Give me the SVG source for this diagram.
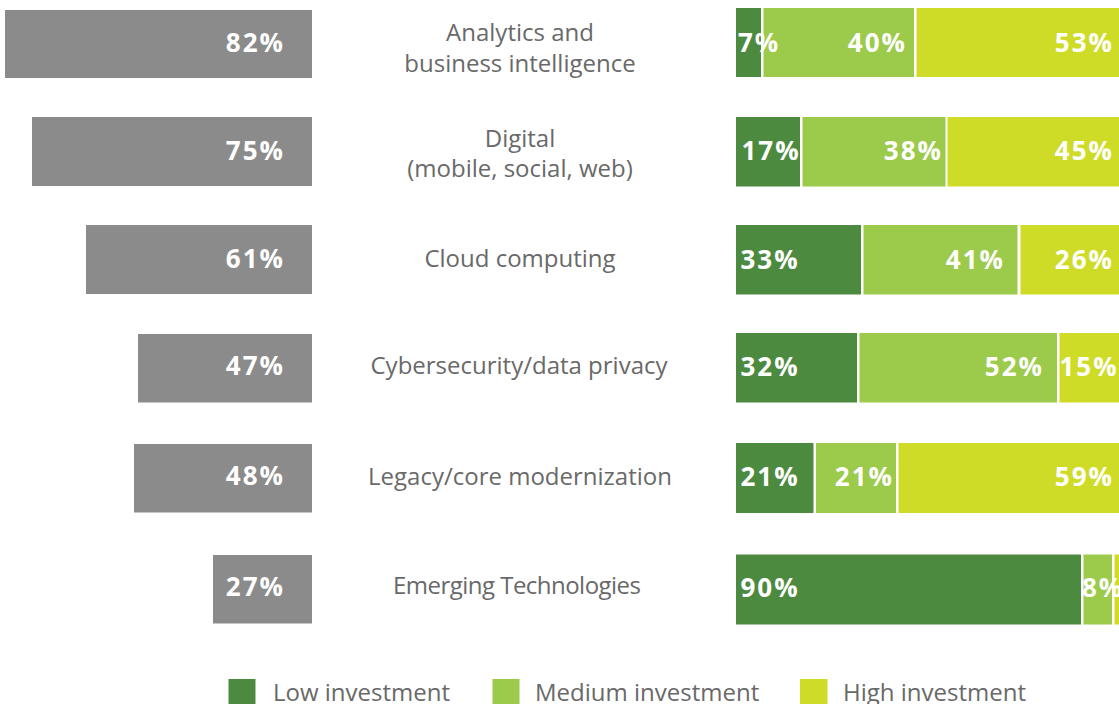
<svg xmlns="http://www.w3.org/2000/svg" width="1119" height="704" viewBox="0 0 1119 704">
<style>
.g{fill:#8b8b8b}
.lo{fill:#4c8a40}
.me{fill:#9cca4a}
.hi{fill:#cedc28}
.v{font-family:"Open Sans","Liberation Sans",sans-serif;font-weight:bold;font-size:26px;letter-spacing:2px;fill:#fff}
.e{text-anchor:end}
.lab{font-family:"Open Sans","Liberation Sans",sans-serif;font-size:24px;fill:#696969;text-anchor:middle}
.leg{font-family:"Open Sans","Liberation Sans",sans-serif;font-size:24px;fill:#696969}
</style>
<rect width="1119" height="704" fill="#fff"/>
<g id="row1">
<rect class="g" x="5" y="10" width="307" height="68"/>
<text class="v e" x="285" y="51.5">82%</text>
<text class="lab" x="520" y="41">Analytics and</text>
<text class="lab" x="520" y="72">business intelligence</text>
<rect class="lo" x="736" y="8" width="25" height="69"/>
<rect class="me" x="763.5" y="8" width="150.5" height="69"/>
<rect class="hi" x="916.5" y="8" width="202.5" height="69"/>
<text class="v" x="738" y="51.5">7%</text>
<text class="v e" x="907" y="51.5">40%</text>
<text class="v e" x="1114" y="51.5">53%</text>
</g>
<g id="row2">
<rect class="g" x="32" y="117" width="280" height="69"/>
<text class="v e" x="285" y="159.5">75%</text>
<text class="lab" x="520" y="147">Digital</text>
<text class="lab" x="520" y="177">(mobile, social, web)</text>
<rect class="lo" x="736" y="117" width="64" height="69.5"/>
<rect class="me" x="802.5" y="117" width="143" height="69.5"/>
<rect class="hi" x="947.5" y="117" width="171.5" height="69.5"/>
<text class="v" x="741.5" y="160">17%</text>
<text class="v e" x="943" y="160">38%</text>
<text class="v e" x="1114" y="160">45%</text>
</g>
<g id="row3">
<rect class="g" x="86" y="225" width="226" height="69"/>
<text class="v e" x="285" y="267.5">61%</text>
<text class="lab" x="520" y="266.5">Cloud computing</text>
<rect class="lo" x="736" y="225" width="125" height="69.5"/>
<rect class="me" x="863.5" y="225" width="154" height="69.5"/>
<rect class="hi" x="1020.5" y="225" width="98.5" height="69.5"/>
<text class="v" x="740.5" y="269">33%</text>
<text class="v e" x="1005" y="269">41%</text>
<text class="v e" x="1114" y="269">26%</text>
</g>
<g id="row4">
<rect class="g" x="138" y="334" width="174" height="68.5"/>
<text class="v e" x="285" y="375">47%</text>
<text class="lab" x="519" y="374">Cybersecurity/data privacy</text>
<rect class="lo" x="736" y="333" width="121" height="69.5"/>
<rect class="me" x="859.5" y="333" width="197.5" height="69.5"/>
<rect class="hi" x="1059.5" y="333" width="59.5" height="69.5"/>
<text class="v" x="740.5" y="375.5">32%</text>
<text class="v e" x="1044" y="375.5">52%</text>
<text class="v" x="1059.5" y="375.5">15%</text>
</g>
<g id="row5">
<rect class="g" x="134" y="444" width="178" height="68.5"/>
<text class="v e" x="285" y="485">48%</text>
<text class="lab" x="520" y="485">Legacy/core modernization</text>
<rect class="lo" x="736" y="443" width="77.5" height="70"/>
<rect class="me" x="816" y="443" width="80" height="70"/>
<rect class="hi" x="898.5" y="443" width="220.5" height="70"/>
<text class="v" x="740.5" y="485.5">21%</text>
<text class="v e" x="894" y="485.5">21%</text>
<text class="v e" x="1114" y="485.5">59%</text>
</g>
<g id="row6">
<rect class="g" x="213" y="555" width="99" height="68.5"/>
<text class="v e" x="285" y="596">27%</text>
<text class="lab" x="517" y="594" textLength="248">Emerging Technologies</text>
<rect class="lo" x="736" y="554.5" width="345" height="70"/>
<rect class="me" x="1083.5" y="554.5" width="28.5" height="70"/>
<rect class="hi" x="1114.5" y="554.5" width="4.5" height="70"/>
<text class="v" x="740.5" y="596.5">90%</text>
<text class="v" x="1082" y="596.5">8%</text>
</g>
<g id="legend">
<rect class="lo" x="228.5" y="679" width="27" height="27"/>
<text class="leg" x="273" y="701">Low investment</text>
<rect class="me" x="492.5" y="679" width="27" height="27"/>
<text class="leg" x="535" y="701">Medium investment</text>
<rect class="hi" x="800" y="679" width="27.5" height="27"/>
<text class="leg" x="843" y="701">High investment</text>
</g>
</svg>
